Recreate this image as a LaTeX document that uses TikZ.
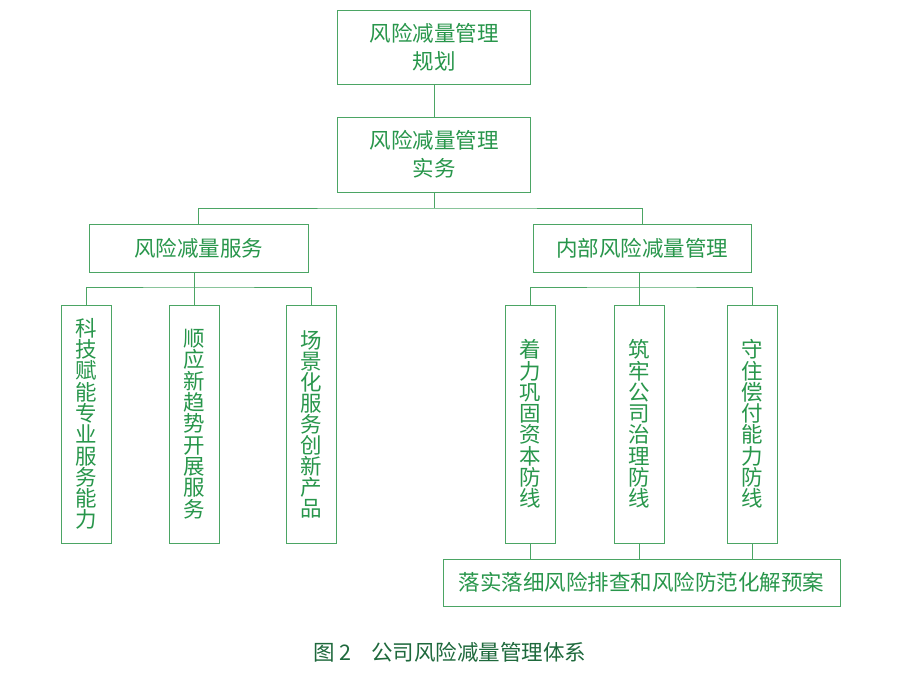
\documentclass[tikz,border=0pt]{standalone}
\usepackage{fontspec}
\newfontfamily\cjk{Noto Sans CJK SC}
\definecolor{linegreen}{RGB}{75,165,100}
\definecolor{textgreen}{RGB}{40,150,75}
\definecolor{capgreen}{RGB}{30,105,60}
\begin{document}
\begin{tikzpicture}[x=1pt,y=-1pt,
  box/.style={draw=linegreen,line width=1pt,inner sep=0pt,align=center,text=textgreen,
    font=\cjk\fontsize{21.5}{28}\selectfont},
  vbox/.style={box,minimum width=50pt,minimum height=238pt,font=\cjk\fontsize{21.5}{21.3}\selectfont},
  conn/.style={draw=linegreen,line width=1pt}]
\useasboundingbox (0,0) rectangle (900,681);
\fill[white] (0,0) rectangle (900,681);
\node[box,minimum width=193pt,minimum height=74pt] (top) at (434,47) {风险减量管理\\规划};
\node[box,minimum width=193pt,minimum height=75pt] (sec) at (434,154.5) {风险减量管理\\实务};
\node[box,minimum width=219pt,minimum height=48pt] (lm) at (198.5,248) {风险减量服务};
\node[box,minimum width=218pt,minimum height=48pt] (rm) at (642,248) {内部风险减量管理};
\node[vbox] (v1) at (86,424) {科\\技\\赋\\能\\专\\业\\服\\务\\能\\力};
\node[vbox] (v2) at (194,424) {顺\\应\\新\\趋\\势\\开\\展\\服\\务};
\node[vbox,font=\cjk\fontsize{21.5}{21}\selectfont] (v3) at (311,424) {场\\景\\化\\服\\务\\创\\新\\产\\品};
\node[vbox] (v4) at (530,424) {着\\力\\巩\\固\\资\\本\\防\\线};
\node[vbox] (v5) at (639,424) {筑\\牢\\公\\司\\治\\理\\防\\线};
\node[vbox] (v6) at (752,424) {守\\住\\偿\\付\\能\\力\\防\\线};
\node[box,minimum width=397pt,minimum height=47pt] (bot) at (641.5,582.5) {落实落细风险排查和风险防范化解预案};
\node[text=capgreen,font=\cjk\fontsize{21.5}{24}\selectfont,inner sep=0pt] (cap) at (450,652) {图\hspace{4pt}2\hspace{20pt}公司风险减量管理体系};
\coordinate (j1) at (434,208);
\coordinate (j2) at (198.5,287);
\coordinate (j3) at (642,287);
\draw[conn] (top) -- (sec);
\draw[conn] (sec.south) -- (j1);
\draw[conn] (lm.north) |- (j1) -| (rm.north);
\draw[conn] (v1.north) |- (j2) -| (v3.north);
\draw[conn] (v2.north) -- (v2.north |- lm.south);
\draw[conn] (v4.north) |- (j3) -| (v6.north);
\draw[conn] (v5.north) -- (v5.north |- rm.south);
\draw[conn] (v4.south) -- (v4.south |- bot.north);
\draw[conn] (v5.south) -- (v5.south |- bot.north);
\draw[conn] (v6.south) -- (v6.south |- bot.north);
\end{tikzpicture}
\end{document}
